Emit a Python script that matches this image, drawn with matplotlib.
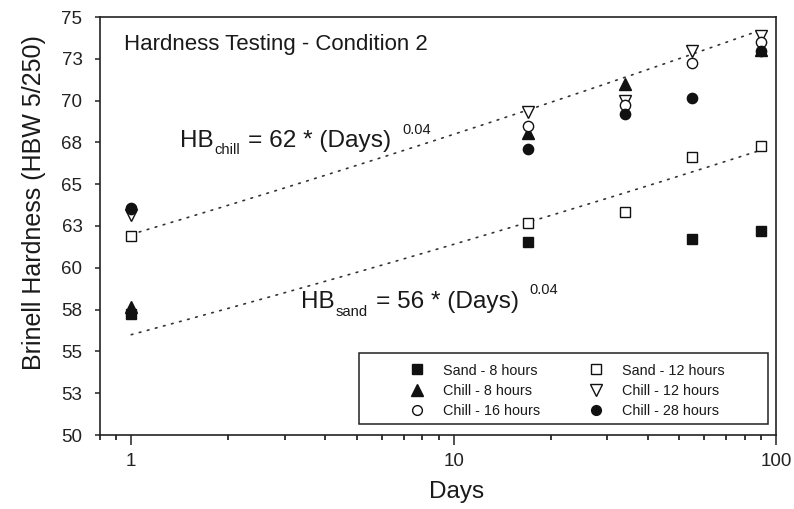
import numpy as np
import matplotlib
matplotlib.use("Agg")
import matplotlib.pyplot as plt
from matplotlib.ticker import FixedLocator, FixedFormatter, NullFormatter
from matplotlib.patches import Rectangle
from matplotlib.transforms import offset_copy

plt.rcParams['font.family'] = ['Liberation Sans', 'DejaVu Sans']

# ---- data ----
days = [1, 17, 34, 55, 90]
sand_8 = [57.25, 61.55, np.nan, 61.7, 62.2]
sand_12 = [61.9, 62.7, 63.35, 66.6, 67.3]
chill_8 = [57.65, 68.05, 71.0, np.nan, 73.05]
chill_12 = [63.15, 69.3, 70.0, 72.95, 73.85]
chill_16 = [63.5, 68.5, 69.75, 72.25, 73.5]
chill_28 = [63.55, 67.1, 69.2, 70.15, 72.95]

fit_days = [1, 90]
chill_coef, sand_coef, fit_exp = 62, 56, 0.04

y_ticks = [50, 52.5, 55, 57.5, 60, 62.5, 65, 67.5, 70, 72.5, 75]
y_labels = ["50", "53", "55", "58", "60", "63", "65", "68", "70", "73", "75"]
x_major = [1, 10, 100]
x_major_labels = ["1", "10", "100"]
x_minor = [0.8, 0.9, 2, 3, 4, 5, 6, 7, 8, 9, 20, 30, 40, 50, 60, 70, 80, 90]

# ---- figure ----
fig = plt.figure(figsize=(7.94, 5.09), dpi=100)
ax = fig.add_axes([100/794, 1-435/509, 676/794, 418/509])
ax.set_xscale('log')
ax.set_xlim(0.8, 100)
ax.set_ylim(50, 75)

K = '#111111'
TXT = '#1a1a1a'
# fit lines
xd = np.logspace(np.log10(fit_days[0]), np.log10(fit_days[1]), 200)
for coef in (chill_coef, sand_coef):
    ax.plot(xd, coef * xd ** fit_exp, color='#333333', lw=1.2,
            linestyle=(0, (1, 4)), dash_capstyle='round', zorder=1)

ms = 7.4
mew = 1.0
h_s8, = ax.plot(days, sand_8, ls='none', marker='s', ms=ms*0.95, mfc=K, mec=K, mew=mew, label='Sand - 8 hours', zorder=3)
h_s12, = ax.plot(days, sand_12, ls='none', marker='s', ms=ms*0.95, mfc='white', mec=K, mew=mew, label='Sand - 12 hours', zorder=3)
h_c8, = ax.plot(days, chill_8, ls='none', marker='^', ms=ms*1.15, mfc=K, mec=K, mew=mew, label='Chill - 8 hours', zorder=3)
h_c12, = ax.plot(days, chill_12, ls='none', marker='v', ms=ms*1.15, mfc='white', mec=K, mew=mew, label='Chill - 12 hours', zorder=3)
h_c16, = ax.plot(days, chill_16, ls='none', marker='o', ms=ms, mfc='white', mec=K, mew=mew, label='Chill - 16 hours', zorder=3)
h_c28, = ax.plot(days, chill_28, ls='none', marker='o', ms=ms, mfc=K, mec=K, mew=mew, label='Chill - 28 hours', zorder=3)

# axes styling
for sp in ax.spines.values():
    sp.set_linewidth(1.2)
    sp.set_color('#222222')
ax.xaxis.set_major_locator(FixedLocator(x_major))
ax.xaxis.set_major_formatter(FixedFormatter(x_major_labels))
ax.xaxis.set_minor_locator(FixedLocator(x_minor))
ax.xaxis.set_minor_formatter(NullFormatter())
ax.yaxis.set_major_locator(FixedLocator(y_ticks))
ax.yaxis.set_major_formatter(FixedFormatter(y_labels))
ax.tick_params(axis='x', which='major', direction='out', length=7.2, width=1.1, pad=5.5, labelsize=13.5, colors='#222222')
ax.tick_params(axis='x', which='minor', direction='out', length=3.6, width=1.1)
ax.tick_params(axis='y', which='major', direction='out', length=3.6, width=1.1, pad=9, labelsize=13.5, colors='#222222')
ax.tick_params(top=False, right=False, which='both')

# texts
ax.text(0.0355, 0.921, 'Hardness Testing - Condition 2', transform=ax.transAxes,
        fontsize=16, ha='left', va='baseline', color=TXT)

renderer = fig.canvas.get_renderer()


def equation(x, y, main, sub, rest, sup, sup_xy):
    pieces = [(main, 17.5, 0, 1.0), (sub, 10.6, -7.5, 8.0), (rest, 17.6, 0, 0)]
    dx = 0.0
    for s, size, dy, gap in pieces:
        tr = offset_copy(ax.transAxes, fig=fig, x=dx, y=dy, units='dots')
        t = ax.text(x, y, s, transform=tr, fontsize=size, ha='left',
                    va='baseline', color=TXT)
        dx += t.get_window_extent(renderer).width + gap
    ax.text(sup_xy[0], sup_xy[1], sup, transform=ax.transAxes,
            fontsize=10.5, ha='left', va='baseline', color=TXT)


equation(0.118, 0.689, 'HB', 'chill', '= 62 * (Days)', '0.04', (0.447, 0.720))
equation(0.297, 0.303, 'HB', 'sand', '= 56 * (Days)', '0.04', (0.635, 0.337))

fig.text(34/794, 1-203/509, 'Brinell Hardness (HBW 5/250)', rotation=90,
         ha='center', va='center', fontsize=18, color=TXT)
fig.text(457/794, 1-498/509, 'Days', ha='center', va='baseline',
         fontsize=17.5, color=TXT)

# legend
ax.add_patch(Rectangle((0.383, 0.026), 0.605, 0.170, transform=ax.transAxes,
                       fill=True, facecolor='white', edgecolor='#222222', lw=1.1, zorder=4))
handles = [h_s8, h_c8, h_c16, h_s12, h_c12, h_c28]
leg = ax.legend(handles=handles, labels=[h.get_label() for h in handles], ncol=2,
                loc='upper left', bbox_to_anchor=(0.454, 0.171), frameon=False,
                fontsize=10.4, handlelength=1.4, handletextpad=1.1, columnspacing=3.2,
                labelspacing=0.43, borderpad=0, borderaxespad=0, markerscale=0.95)
leg.set_zorder(5)
for t in leg.get_texts():
    t.set_color(TXT)

fig.savefig('out.png', dpi=100)
